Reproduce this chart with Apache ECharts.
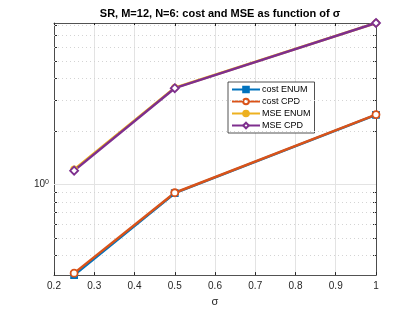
<!DOCTYPE html>
<html><head><meta charset="utf-8">
<script src="https://cdn.jsdelivr.net/npm/echarts@6/dist/echarts.min.js"></script>
<style>html,body{margin:0;padding:0;background:#fff}#c{width:415px;height:312px}</style>
</head><body><div id="c"></div>
<script>
const sigma = [0.25, 0.5, 1];
const costENUM = [0.308, 0.895, 2.48];
const costCPD = [0.316, 0.900, 2.49];
const mseENUM = [1.22, 3.53, 8.2];
const mseCPD = [1.20, 3.51, 8.2];
const xTicks = [0.2, 0.3, 0.4, 0.5, 0.6, 0.7, 0.8, 0.9, 1];
const yMinor = [0.4, 0.5, 0.6, 0.7, 0.8, 0.9, 2, 3, 4, 5, 6, 7, 8];
const yMajor = [1];
const yTickVals = [0.4, 0.5, 0.6, 0.7, 0.8, 0.9, 1, 2, 3, 4, 5, 6, 7, 8];

const axisCol = '#262626';
const font = 'Liberation Sans, Arial, sans-serif';
const chart = echarts.init(document.getElementById('c'));
const pairs = a => sigma.map((s, i) => [s, a[i]]);

function mkSeries(name, data, color, symbol, size, fill) {
  return {
    name, type: 'line', data: pairs(data), symbol, symbolSize: size,
    lineStyle: {color, width: 2.5}, itemStyle: {color: fill, borderColor: color, borderWidth: 1.8},
    showAllSymbol: true, z: 5
  };
}

const series = [
  mkSeries('cost ENUM', costENUM, '#0072BD', 'rect', 6, '#0072BD'),
  mkSeries('cost CPD', costCPD, '#D95319', 'circle', 7, '#ffffff'),
  mkSeries('MSE ENUM', mseENUM, '#EDB120', 'circle', 6, '#EDB120'),
  mkSeries('MSE CPD', mseCPD, '#7E2F8E', 'diamond', 8, '#ffffff'),
  {
    name: 'grid', type: 'line', data: [], silent: true, z: 1,
    markLine: {
      silent: true, symbol: 'none', animation: false, label: {show: false},
      data: yMinor.map(v => ({yAxis: v, lineStyle: {color: '#d4d4d4', type: [1, 3], width: 1}}))
        .concat(yMajor.map(v => ({yAxis: v, lineStyle: {color: '#e3e3e3', type: 'solid', width: 1}})))
    }
  }
];

chart.setOption({
  animation: false,
  title: {
    text: 'SR, M=12, N=6: cost and MSE as function of σ', left: 215, top: 3, textAlign: 'center',
    textStyle: {fontFamily: font, fontSize: 11, fontWeight: 'bold', color: '#000'}
  },
  grid: {left: 54, right: 39, top: 23, bottom: 35},
  legend: {
    data: ['cost ENUM', 'cost CPD', 'MSE ENUM', 'MSE CPD'],
    orient: 'vertical', left: 228, top: 82, itemWidth: 28, itemHeight: 7, itemGap: 3,
    padding: [3, 4, 3, 3], backgroundColor: '#fff', borderColor: '#262626', borderWidth: 0.8, borderRadius: 0,
    textStyle: {fontFamily: font, fontSize: 9, color: '#000', padding: [0, 0, 0, -3]}
  },
  xAxis: [{
    type: 'value', min: 0.2, max: 1, interval: 0.1, position: 'bottom',
    name: 'σ', nameLocation: 'middle', nameGap: 19,
    nameTextStyle: {fontFamily: font, fontSize: 11, color: axisCol},
    axisLine: {onZero: false, lineStyle: {color: axisCol, width: 0.8}},
    axisTick: {inside: true, length: 3, lineStyle: {color: axisCol}},
    axisLabel: {fontFamily: font, fontSize: 10, color: axisCol, margin: 6, formatter: v => String(+v.toFixed(1))},
    splitLine: {show: true, lineStyle: {color: '#e3e3e3', width: 1}}
  }, {
    type: 'value', min: 0.2, max: 1, interval: 0.1, position: 'top',
    axisLine: {onZero: false, lineStyle: {color: axisCol, width: 0.8}},
    axisTick: {inside: true, length: 3, lineStyle: {color: axisCol}},
    axisLabel: {show: false}, splitLine: {show: false}
  }],
  yAxis: [{
    type: 'log', logBase: 10, min: 0.308, max: 8.2, position: 'left',
    axisLine: {show: true, onZero: false, lineStyle: {color: axisCol, width: 0.8}},
    axisTick: {show: true, inside: true, length: 3, customValues: yTickVals, lineStyle: {color: axisCol}},
    axisLabel: {
      customValues: yMajor, fontFamily: font, fontSize: 10, color: axisCol, margin: 5,
      formatter: v => '{b|10}{s|0}',
      rich: {b: {fontFamily: font, fontSize: 10, color: axisCol}, s: {fontFamily: font, fontSize: 7, color: axisCol, verticalAlign: 'top', padding: [0, 0, 6, 0]}}
    },
    splitLine: {show: false}
  }, {
    type: 'log', logBase: 10, min: 0.308, max: 8.2, position: 'right',
    axisLine: {show: true, onZero: false, lineStyle: {color: axisCol, width: 0.8}},
    axisTick: {show: true, inside: true, length: 3, customValues: yTickVals, lineStyle: {color: axisCol}},
    axisLabel: {show: false}, splitLine: {show: false}
  }],
  series
});
</script></body></html>
